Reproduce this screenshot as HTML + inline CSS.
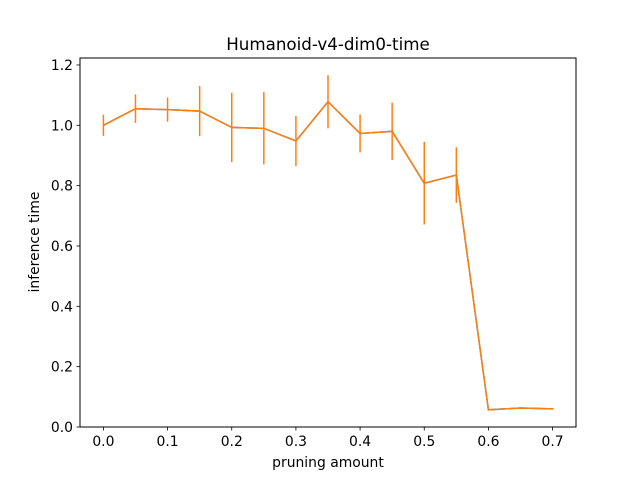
<!DOCTYPE html>
<html><head><meta charset="utf-8"><style>
body{margin:0;background:#fff;}
svg{display:block;font-family:"DejaVu Sans","Liberation Sans",sans-serif;}
</style></head><body>
<svg id="chart" width="640" height="480">
<rect x="0" y="0" width="640" height="480" fill="#fff"/>
<text x="328" y="50" text-anchor="middle" font-size="16.7">Humanoid-v4-dim0-time</text>
<g id="marks"></g>
<rect x="80" y="58" width="496" height="369" fill="none" stroke="#000" stroke-width="1"/>
<g id="xticks"></g><g id="yticks"></g>
<text x="328" y="467" text-anchor="middle" font-size="13.9">pruning amount</text>
<text transform="translate(39,242) rotate(-90)" text-anchor="middle" font-size="13.9">inference time</text>
</svg>
<script>
const xs=[0,0.05,0.1,0.15,0.2,0.25,0.3,0.35,0.4,0.45,0.5,0.55,0.6,0.65,0.7];
const means=[1.0,1.055,1.052,1.047,0.993,0.99,0.948,1.078,0.973,0.98,0.808,0.835,0.057,0.063,0.06];
const errs=[0.035,0.047,0.04,0.083,0.115,0.12,0.083,0.088,0.063,0.095,0.137,0.092,0.003,0.003,0.003];
const xTicks=[0,0.1,0.2,0.3,0.4,0.5,0.6,0.7];
const yTicks=[0,0.2,0.4,0.6,0.8,1.0,1.2];
const NS="http://www.w3.org/2000/svg";
function X(v){return 103.4+v*641.7;}
function Y(v){return 427-v*301.7;}
function mk(t,a,p){const e=document.createElementNS(NS,t);for(const k in a)e.setAttribute(k,a[k]);p.appendChild(e);return e;}
const marks=document.getElementById('marks');
let d=xs.map((x,i)=>(i?'L':'M')+X(x)+' '+Y(means[i])).join(' ');
const line0=mk('path',{d:d,fill:'none',stroke:'#1f77b4','stroke-width':1.5},marks);


const line=mk('path',{d:d,fill:'none',stroke:'#ff7f0e','stroke-width':1.5},marks);


xs.forEach((x,i)=>{
 const e=mk('line',{x1:X(x),x2:X(x),y1:Y(means[i]-errs[i]),y2:Y(means[i]+errs[i]),stroke:'#ff7f0e','stroke-width':1.5},marks);
 
 
});
const xt=document.getElementById('xticks');
xTicks.forEach(v=>{
 const l=mk('line',{x1:X(v),x2:X(v),y1:427,y2:430.5,stroke:'#000','stroke-width':0.8},xt);
 
 
 const t=mk('text',{x:X(v),y:446,'text-anchor':'middle','font-size':13.9},xt);
 t.textContent=v.toFixed(1);
 
 
});
const yt=document.getElementById('yticks');
yTicks.forEach(v=>{
 const l=mk('line',{x1:76.5,x2:80,y1:Y(v),y2:Y(v),stroke:'#000','stroke-width':0.8},yt);
 
 
 const t=mk('text',{x:73,y:Y(v)+5,'text-anchor':'end','font-size':13.9},yt);
 t.textContent=v.toFixed(1);
 
 
});
</script>
</body></html>
